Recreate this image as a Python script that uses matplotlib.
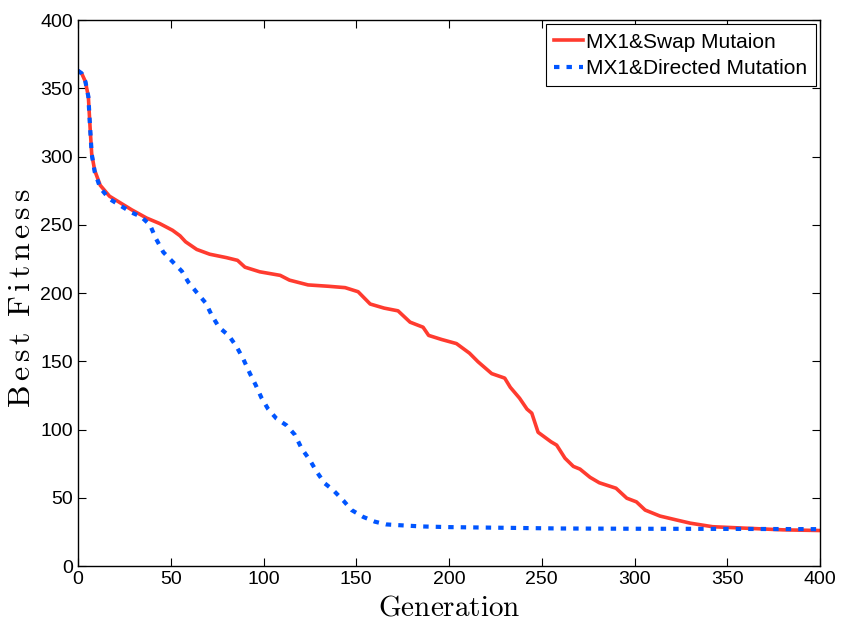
import matplotlib.pyplot as plt

# values
gen_swap = [0, 2, 4, 5.6, 6.5, 7.4, 9, 12, 17, 23, 29, 37, 44, 51, 55, 58, 64, 71, 80, 86,
            90, 98, 109, 114, 124, 135, 144, 151, 157.5, 165, 172.5, 179, 186, 189, 196,
            204, 211, 215.6, 223, 230, 233, 238, 242, 244.6, 248, 255, 258, 262.5, 267,
            270.6, 276, 281, 290, 295.8, 301, 305.7, 313.7, 322.7, 330, 342, 360, 380, 400]
fit_swap = [363, 361, 355, 344, 322, 302, 290, 279, 271, 266, 261, 255, 251, 246, 242, 237.6,
            232, 228.5, 226, 224, 219, 215.6, 213, 209.5, 206, 205, 204, 201, 192, 189, 187,
            178.7, 175, 169, 166, 163, 156, 149.7, 141, 137.7, 131, 123, 115, 112, 98, 91,
            88.6, 79, 73, 71, 65, 61, 57, 49.7, 47, 41, 36.6, 33.7, 31.4, 28.8, 27.7, 26.5, 26]

gen_dir = [0, 2, 4, 5.6, 6.5, 7.4, 9, 12, 17, 23, 29, 34, 38.8, 42, 46, 51, 56, 59.5, 64, 69,
           72, 76, 81.4, 85.5, 89, 92.7, 95.8, 99, 102.5, 107, 112.5, 117, 120.6, 125, 128.7,
           133, 137.5, 143, 147.5, 153.7, 160, 166, 172, 185, 200, 230, 260, 300, 350, 400]
fit_dir = [363, 361, 355, 344, 322, 302, 289, 277, 269, 264, 259, 256, 250, 240, 230, 223,
           216, 208, 200.5, 192.5, 184, 175, 168.7, 160.7, 152, 141, 132.6, 123, 115, 108,
           103, 96, 86, 77.6, 69, 60.6, 55.7, 48, 41, 36, 32.5, 30.5, 30, 29, 28.5, 28,
           27.5, 27.3, 27.2, 27]

plt.rcParams['mathtext.fontset'] = 'cm'
tick_font = ['Liberation Sans Narrow', 'Liberation Sans', 'DejaVu Sans']

fig = plt.figure(figsize=(8.42, 6.31), dpi=100)
ax = fig.add_axes([0.0926, 0.103, 0.974 - 0.0926, 0.968 - 0.103])

ax.plot(gen_swap, fit_swap, color='#ff3b2f', lw=2.6, label='MX1&Swap Mutaion')
ax.plot(gen_dir, fit_dir, color='#0055ff', lw=3.0, dashes=(1.3, 1.7),
        label='MX1&Directed Mutation')

ax.set_xlim(0, 400)
ax.set_ylim(0, 400)
ax.set_xticks(range(0, 401, 50))
ax.set_yticks(range(0, 401, 50))
ax.tick_params(direction='in', top=True, right=True, length=6, width=0.8, labelsize=14)
for lab in ax.get_xticklabels() + ax.get_yticklabels():
    lab.set_family(tick_font)
for s in ax.spines.values():
    s.set_linewidth(1.0)

ax.set_xlabel(r'$\mathrm{Generation}$', fontsize=21)
ax.xaxis.set_label_coords(0.5, -0.05)
# the y label is drawn wider in the original, so spread the letters a bit
ax.set_ylabel(r'$\mathrm{B\,e\,s\,t\;\;F\,i\,t\,n\,e\,s\,s}$', fontsize=23)
ax.yaxis.set_label_coords(-0.055, 0.49)

leg = ax.legend(loc='upper right', prop={'family': tick_font, 'size': 15},
                fancybox=False, edgecolor='black', framealpha=1,
                borderpad=0.4, labelspacing=0.35, handlelength=1.4, handletextpad=0.15,
                borderaxespad=0.2)
leg.get_frame().set_linewidth(0.8)

fig.savefig('out.png', dpi=100)
